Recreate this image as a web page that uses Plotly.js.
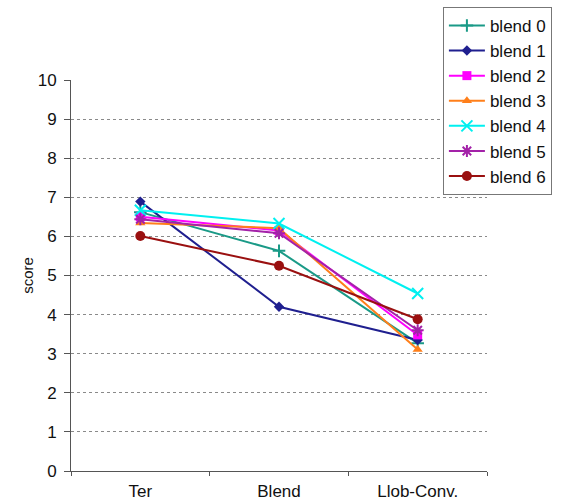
<!DOCTYPE html>
<html>
<head>
<meta charset="utf-8">
<script src="https://cdn.plot.ly/plotly-3.0.1.min.js"></script>
<style>html,body{margin:0;padding:0;background:#fff;}#chart{width:566px;height:503px;}</style>
</head>
<body>
<div id="chart"></div>
<script>
var categories = ["Ter", "Blend", "Llob-Conv."];
var seriesNames = ["blend 0", "blend 1", "blend 2", "blend 3", "blend 4", "blend 5", "blend 6"];
var blend0 = [6.62, 5.63, 3.27];
var blend1 = [6.89, 4.20, 3.35];
var blend2 = [6.50, 6.15, 3.48];
var blend3 = [6.34, 6.21, 3.11];
var blend4 = [6.67, 6.33, 4.54];
var blend5 = [6.44, 6.08, 3.60];
var blend6 = [6.01, 5.25, 3.88];
var yTicks = [0, 1, 2, 3, 4, 5, 6, 7, 8, 9, 10];
var yGrid = [1, 2, 3, 4, 5, 6, 7, 8, 9];

var allValues = [blend0, blend1, blend2, blend3, blend4, blend5, blend6];
var colors = ["#1a9a87", "#1f1f8f", "#ff00ff", "#ff7f1a", "#00f0f0", "#a322a8", "#9a1010"];
var symbols = ["cross-thin", "diamond", "square", "triangle-up", "x-thin", "asterisk", "circle"];
var sizes = [9, 8, 9, 9, 11, 10, 10];

var traces = allValues.map(function (vals, i) {
  var thin = symbols[i].indexOf("thin") >= 0 || symbols[i] === "asterisk";
  return {
    x: categories,
    y: vals,
    name: seriesNames[i],
    type: "scatter",
    mode: "lines+markers",
    line: { color: colors[i], width: 2 },
    marker: {
      symbol: symbols[i],
      size: sizes[i],
      color: colors[i],
      line: { color: colors[i], width: thin ? 2 : 0 }
    }
  };
});

var layout = {
  width: 566,
  height: 503,
  margin: { l: 71, r: 79, t: 80, b: 32, autoexpand: false },
  paper_bgcolor: "#fff",
  plot_bgcolor: "#fff",
  font: { family: "Liberation Sans, Arial, sans-serif", color: "#111" },
  showlegend: true,
  legend: {
    x: 0.894, y: 1.187, xanchor: "left", yanchor: "top",
    bordercolor: "#777", borderwidth: 1, bgcolor: "#fff",
    font: { size: 17, color: "#111" },
    itemwidth: 36
  },
  xaxis: {
    type: "category",
    range: [-0.5, 2.5],
    showline: true, linecolor: "#555", linewidth: 1,
    ticks: "outside", tickson: "boundaries", ticklen: 4, tickcolor: "#555",
    showgrid: false, zeroline: false,
    ticklabelstandoff: 5,
    tickfont: { size: 17 }
  },
  yaxis: {
    range: [0, 10],
    tickvals: yTicks,
    showline: true, linecolor: "#555", linewidth: 1,
    ticks: "outside", ticklen: 6, tickcolor: "#555",
    showgrid: false,
    zeroline: false,
    ticklabelstandoff: 4,
    tickfont: { size: 17 },
    minor: {
      tickmode: "array",
      tickvals: yGrid,
      ticks: "",
      showgrid: true, gridcolor: "#8a8a8a", griddash: "dot", gridwidth: 1
    },
    title: { text: "score", font: { size: 15 }, standoff: 0 }
  }
};

Plotly.newPlot("chart", traces, layout, { displayModeBar: false, staticPlot: true });
</script>
</body>
</html>
